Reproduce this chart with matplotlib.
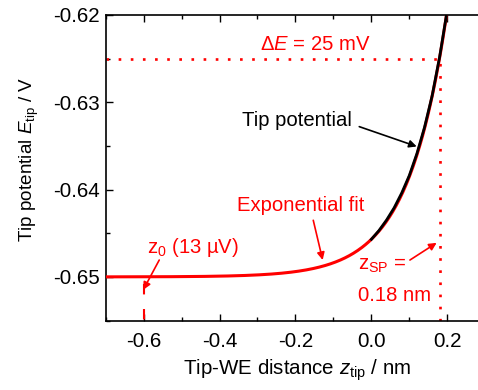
import numpy as np
import matplotlib
matplotlib.use("Agg")
import matplotlib.pyplot as plt
from matplotlib.ticker import MultipleLocator

plt.rcParams['font.family'] = ['Liberation Sans', 'DejaVu Sans']
plt.rcParams['mathtext.fontset'] = 'custom'
plt.rcParams['mathtext.rm'] = 'Liberation Sans'
plt.rcParams['mathtext.it'] = 'Liberation Sans:italic'
plt.rcParams['mathtext.bf'] = 'Liberation Sans:bold'

# measured tip potential vs tip-WE distance
tip_z = [0.00, 0.02, 0.04, 0.06, 0.08, 0.10, 0.12, 0.14, 0.16, 0.18, 0.198]
tip_E = [-0.6457, -0.6447, -0.6435, -0.6421, -0.6404, -0.6384, -0.6359,
         -0.6329, -0.6293, -0.6248, -0.6200]

# exponential fit  E = offset + amp * exp(z / decay)
fit_offset = -0.650
fit_amp = 0.0043
fit_decay = 0.102
fit_range = (-0.70, 0.198)

delta_E = 0.025        # V
z_sp = 0.18            # nm
z_zero = -0.60         # nm

x_ticks = [-0.6, -0.4, -0.2, 0.0, 0.2]
y_ticks = [-0.65, -0.64, -0.63, -0.62]

RED = '#ff0000'
FS = 14.6
TFS = 14.8

fig = plt.figure(figsize=(4.78, 3.90), dpi=100)
ax = fig.add_axes([0.221, 0.178, 0.779, 0.784])

zf = np.linspace(fit_range[0], fit_range[1], 400)
Ef = fit_offset + fit_amp * np.exp(zf / fit_decay)
ax.plot(zf, Ef, color=RED, lw=2.2, zorder=3)
ax.plot(tip_z, tip_E, color='black', lw=2.0, zorder=4)

# guide lines for the potential window and set point
E_sp = fit_offset + delta_E
ax.plot([-0.7, z_sp], [E_sp, E_sp], color=RED, lw=1.9, dashes=(1, 3.6), zorder=2)
ax.plot([z_sp, z_sp], [-0.655, E_sp], color=RED, lw=1.9, dashes=(1, 3.6), zorder=2)
ax.plot([z_zero, z_zero], [-0.6508, -0.655], color=RED, lw=1.5,
        dashes=(5, 7), zorder=2)

ax.set_xlim(-0.7, 0.281)
ax.set_ylim(-0.655, -0.62)
ax.set_xticks(x_ticks)
ax.set_xticklabels(['-0.6', '-0.4', '-0.2', '0.0', '0.2'])
ax.set_yticks(y_ticks)
ax.set_yticklabels(['-0.65', '-0.64', '-0.63', '-0.62'])
ax.xaxis.set_minor_locator(MultipleLocator(0.1))
ax.yaxis.set_minor_locator(MultipleLocator(0.005))
ax.tick_params(which='both', direction='in', top=True, right=False,
               width=1.0, labelsize=TFS)
ax.tick_params(which='major', length=5)
ax.tick_params(which='minor', length=3)
ax.tick_params(axis='x', pad=8)
ax.tick_params(axis='y', pad=4)
for side in ['left', 'bottom', 'top']:
    ax.spines[side].set_linewidth(1.2)
ax.spines['right'].set_visible(False)

fig.text(0.6224, 0.0385, r'Tip-WE distance $z_{\rm tip}$ / nm', fontsize=14.8,
         ha='center', va='baseline')
fig.text(0.069, 0.592, r'Tip potential $E_{\rm tip}$ / V', fontsize=13.6,
         ha='center', va='baseline', rotation=90, rotation_mode='anchor')

arrow_red = dict(arrowstyle='-|>', color=RED, lw=1.2, mutation_scale=11,
                 shrinkA=0, shrinkB=0)
arrow_blk = dict(arrowstyle='-|>', color='black', lw=1.2, mutation_scale=11,
                 shrinkA=0, shrinkB=0)

ax.text(-0.1485, -0.62344, r'$\Delta E$ = 25 mV', color=RED, fontsize=FS,
        ha='center', va='center')

ax.text(-0.196, -0.63208, 'Tip potential', color='black', fontsize=FS,
        ha='center', va='center')
ax.annotate('', xy=(0.1195, -0.63507), xytext=(-0.0318, -0.63280),
            arrowprops=arrow_blk)

ax.text(-0.1859, -0.6418, 'Exponential fit', color=RED, fontsize=FS,
        ha='center', va='center')
ax.annotate('', xy=(-0.1282, -0.64807), xytext=(-0.153, -0.64352),
            arrowprops=arrow_red)

ax.text(-0.592, -0.64731, r'$\mathrm{z}_{0}$ (13 µV)', color=RED, fontsize=FS,
        ha='left', va='baseline')
ax.annotate('', xy=(-0.6009, -0.65148), xytext=(-0.5588, -0.64807),
            arrowprops=arrow_red)

ax.text(-0.0344, -0.64920, r'$\mathrm{z}_{\rm SP}$ =', color=RED, fontsize=FS,
        ha='left', va='baseline')
ax.text(-0.0344, -0.65280, '0.18 nm', color=RED, fontsize=FS,
        ha='left', va='baseline')
ax.annotate('', xy=(0.1720, -0.6461), xytext=(0.1017, -0.64807),
            arrowprops=arrow_red)

fig.savefig('out.png', dpi=100)
